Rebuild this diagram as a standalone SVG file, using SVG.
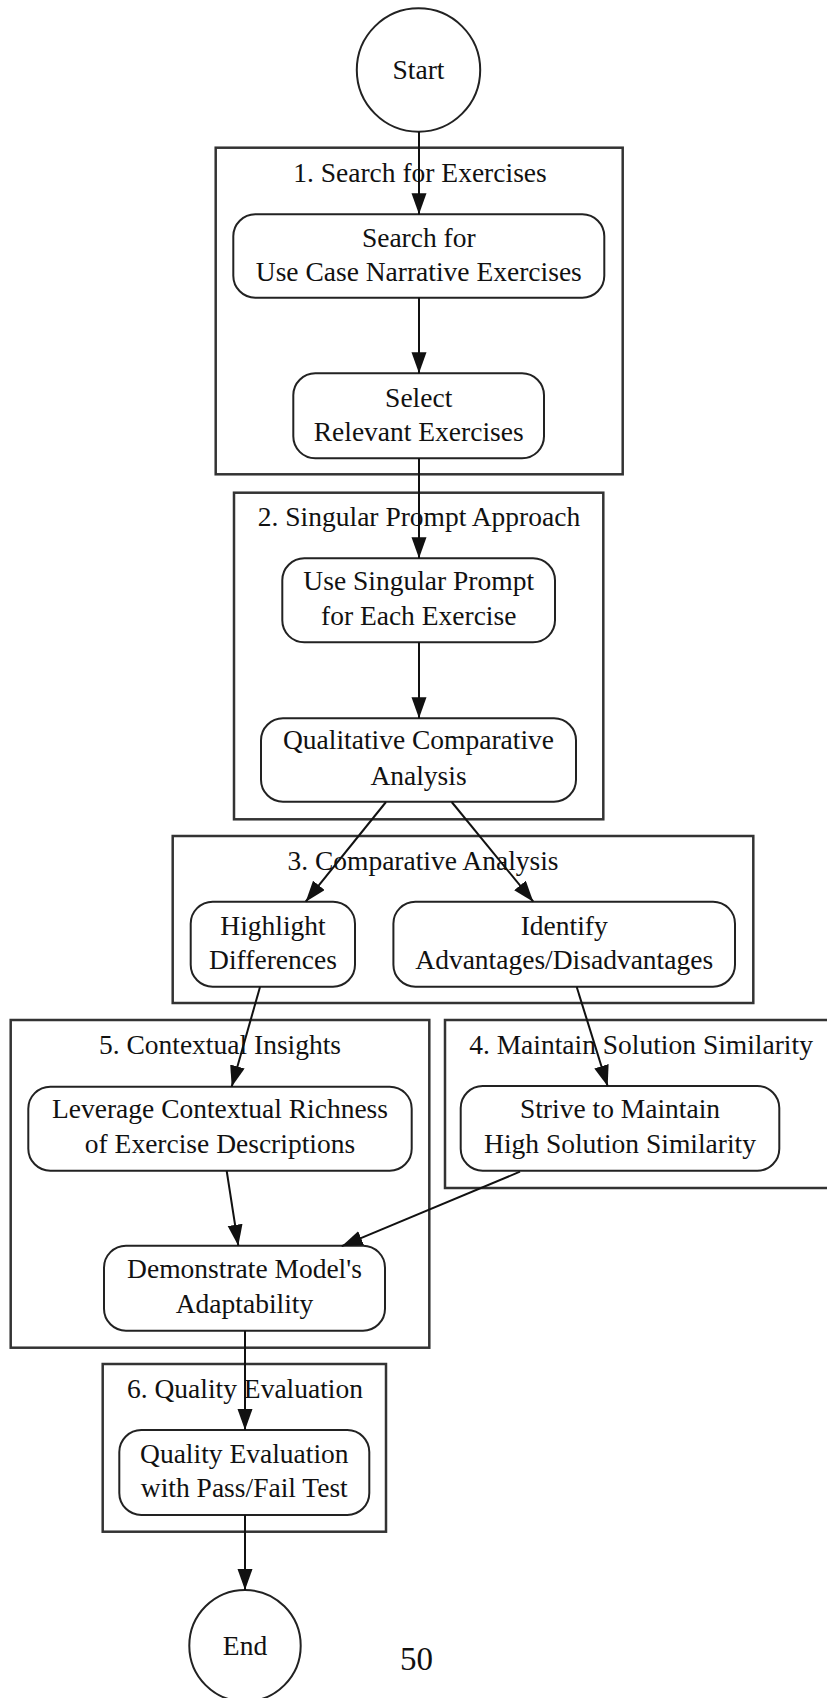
<svg xmlns="http://www.w3.org/2000/svg" width="827" height="1698" viewBox="0 0 827 1698">
  <style>
    .cluster { fill: none; stroke: #333; stroke-width: 2.5; }
    .node { fill: #fff; stroke: #222; stroke-width: 2; }
    .label { font-family: "Liberation Serif", "Times New Roman", serif; font-size: 27.5px; fill: #111; text-anchor: middle; }
    .edge { fill: none; stroke: #111; stroke-width: 2; }
    .page { font-family: "Liberation Serif", "Times New Roman", serif; font-size: 33px; fill: #111; }
  </style>
  <defs>
    <marker id="arrow" markerUnits="userSpaceOnUse" markerWidth="22" markerHeight="16" refX="21" refY="7.5" orient="auto">
      <path d="M0,0 L21,7.5 L0,15 Z" fill="#111"/>
    </marker>
  </defs>

  <rect width="827" height="1698" fill="#fff"/>

  <!-- clusters -->
  <g id="cluster1">
    <rect class="cluster" x="215.7" y="147.7" width="407" height="326.6"/>
    <text class="label" x="420" y="181.7">1. Search for Exercises</text>
  </g>
  <g id="cluster2">
    <rect class="cluster" x="234" y="492.7" width="369.3" height="326.6"/>
    <text class="label" x="419" y="526">2. Singular Prompt Approach</text>
  </g>
  <g id="cluster3">
    <rect class="cluster" x="172.7" y="836" width="580.6" height="167"/>
    <text class="label" x="423" y="870">3. Comparative Analysis</text>
  </g>
  <g id="cluster4">
    <rect class="cluster" x="445" y="1020" width="390" height="168"/>
    <text class="label" x="641" y="1054">4. Maintain Solution Similarity</text>
  </g>
  <g id="cluster5">
    <rect class="cluster" x="10.7" y="1020" width="418.6" height="327.7"/>
    <text class="label" x="220" y="1053.5">5. Contextual Insights</text>
  </g>
  <g id="cluster6">
    <rect class="cluster" x="102.7" y="1364" width="283.3" height="167.7"/>
    <text class="label" x="245" y="1398.3">6. Quality Evaluation</text>
  </g>

  <!-- nodes -->
  <g id="start">
    <circle class="node" cx="418.5" cy="70" r="61.7"/>
    <text class="label" x="418.5" y="79">Start</text>
  </g>
  <g id="search">
    <rect class="node" x="233.3" y="214.3" width="371" height="83.4" rx="22"/>
    <text class="label" x="418.8" y="246.7">Search for</text>
    <text class="label" x="418.8" y="281">Use Case Narrative Exercises</text>
  </g>
  <g id="select">
    <rect class="node" x="293.3" y="373.3" width="250.7" height="85" rx="22"/>
    <text class="label" x="418.7" y="406.7">Select</text>
    <text class="label" x="418.7" y="440.7">Relevant Exercises</text>
  </g>
  <g id="singular">
    <rect class="node" x="282.3" y="558.3" width="272.7" height="84" rx="22"/>
    <text class="label" x="418.7" y="590">Use Singular Prompt</text>
    <text class="label" x="418.7" y="625">for Each Exercise</text>
  </g>
  <g id="qca">
    <rect class="node" x="261" y="718.3" width="315" height="83.4" rx="22"/>
    <text class="label" x="418.5" y="749.3">Qualitative Comparative</text>
    <text class="label" x="418.5" y="785">Analysis</text>
  </g>
  <g id="highlight">
    <rect class="node" x="190.7" y="901.7" width="164.3" height="85" rx="22"/>
    <text class="label" x="273" y="935">Highlight</text>
    <text class="label" x="273" y="969.3">Differences</text>
  </g>
  <g id="identify">
    <rect class="node" x="393.4" y="901.7" width="341.6" height="85" rx="22"/>
    <text class="label" x="564.2" y="935">Identify</text>
    <text class="label" x="564.2" y="969.3">Advantages/Disadvantages</text>
  </g>
  <g id="strive">
    <rect class="node" x="460.7" y="1086" width="318.6" height="84.7" rx="22"/>
    <text class="label" x="620" y="1118.3">Strive to Maintain</text>
    <text class="label" x="620" y="1152.7">High Solution Similarity</text>
  </g>
  <g id="leverage">
    <rect class="node" x="28.3" y="1086.7" width="383.4" height="84" rx="22"/>
    <text class="label" x="220" y="1118.3">Leverage Contextual Richness</text>
    <text class="label" x="220" y="1152.7">of Exercise Descriptions</text>
  </g>
  <g id="demonstrate">
    <rect class="node" x="104" y="1245.7" width="281" height="85" rx="22"/>
    <text class="label" x="244.5" y="1278.3">Demonstrate Model's</text>
    <text class="label" x="244.5" y="1313.3">Adaptability</text>
  </g>
  <g id="quality">
    <rect class="node" x="119.3" y="1430" width="250" height="85" rx="22"/>
    <text class="label" x="244.3" y="1463.3">Quality Evaluation</text>
    <text class="label" x="244.3" y="1496.7">with Pass/Fail Test</text>
  </g>
  <g id="end">
    <circle class="node" cx="245" cy="1645.7" r="55.7"/>
    <text class="label" x="245" y="1655">End</text>
  </g>

  <!-- connectors -->
  <g id="edges">
    <line class="edge" x1="419" y1="131.7" x2="419" y2="214.3" marker-end="url(#arrow)"/>
    <line class="edge" x1="419" y1="297.7" x2="419" y2="373.3" marker-end="url(#arrow)"/>
    <line class="edge" x1="419" y1="458.3" x2="419" y2="558.3" marker-end="url(#arrow)"/>
    <line class="edge" x1="419" y1="642.3" x2="419" y2="718.3" marker-end="url(#arrow)"/>
    <line class="edge" x1="386" y1="802" x2="305.7" y2="901.7" marker-end="url(#arrow)"/>
    <line class="edge" x1="451.7" y1="802" x2="533.3" y2="901.7" marker-end="url(#arrow)"/>
    <line class="edge" x1="260" y1="987" x2="231.7" y2="1086.7" marker-end="url(#arrow)"/>
    <line class="edge" x1="576.7" y1="987" x2="607.7" y2="1086.3" marker-end="url(#arrow)"/>
    <line class="edge" x1="226.7" y1="1171" x2="238.3" y2="1245.7" marker-end="url(#arrow)"/>
    <line class="edge" x1="520" y1="1171.7" x2="341.7" y2="1246.2" marker-end="url(#arrow)"/>
    <line class="edge" x1="245" y1="1331" x2="245" y2="1430" marker-end="url(#arrow)"/>
    <line class="edge" x1="245" y1="1515" x2="245" y2="1590" marker-end="url(#arrow)"/>
  </g>

  <text class="page" x="400" y="1670">50</text>
</svg>
